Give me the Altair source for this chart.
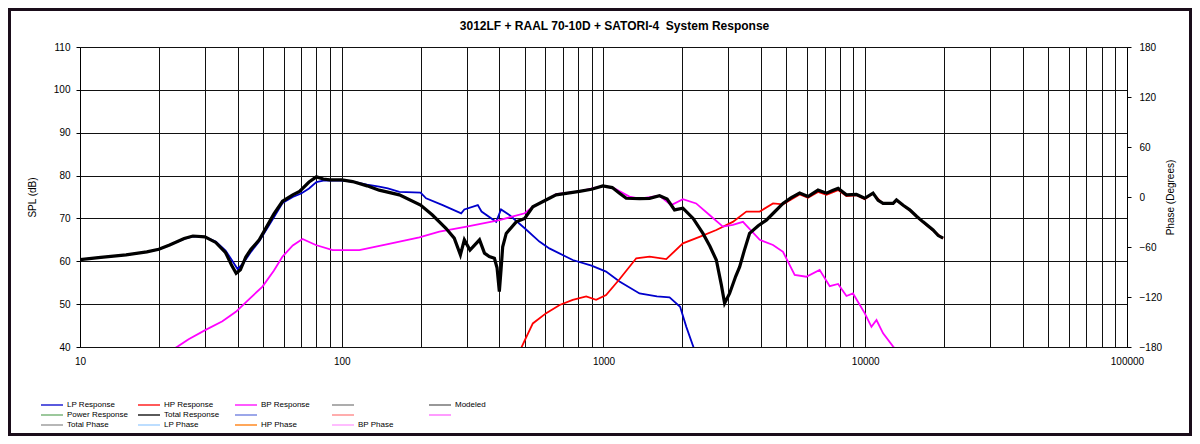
import altair as alt
import pandas as pd

TITLE = "3012LF + RAAL 70-10D + SATORI-4\u00a0 System Response"

# LP Response (blue)
lp_freq = [10, 12, 15, 18, 20, 22, 25, 27, 30, 33, 36, 38, 40, 42, 45, 48.4, 55, 59.4, 65, 70, 75, 80, 85, 90,
           100, 110, 125, 139, 150, 166, 200, 210, 243, 286, 294, 331, 342, 389, 406, 437, 500, 569, 621,
           763, 900, 1023, 1151, 1373, 1600, 1788, 1962, 2072, 2250]
lp_spl = [60.4, 60.9, 61.5, 62.2, 62.8, 63.8, 65.2, 65.8, 65.7, 64.6, 62.5, 60.3, 58.2, 59.5, 62.2, 64.7, 70.2,
          73.6, 75.0, 75.8, 77.0, 78.5, 78.8, 78.8, 78.8, 78.6, 77.9, 77.4, 77.0, 76.2, 76.0, 74.7, 73.1, 71.2,
          72.1, 73.1, 71.6, 69.2, 72.1, 70.8, 67.7, 64.6, 63.0, 60.3, 59.0, 57.6, 55.3, 52.5, 51.8, 51.6, 49.4,
          44.7, 38.5]

# HP Response (red)
hp_freq = [470, 491, 537, 604, 680, 763, 859, 937, 1023, 1151, 1334, 1500, 1737, 2011, 2327, 2698, 3119, 3513,
           3952, 4443, 4850, 5617, 6043, 6600, 7112, 7875, 8475, 9253, 9950, 10710, 11700, 12780, 13160, 14790,
           16630, 18160, 19840]
hp_spl = [38.0, 40.5, 45.5, 47.9, 49.8, 51.0, 51.8, 51.0, 52.1, 55.8, 60.7, 61.1, 60.5, 64.2, 65.7, 67.3, 69.2,
          71.6, 71.6, 73.5, 73.3, 75.6, 74.8, 76.2, 75.5, 76.6, 75.2, 75.4, 74.5, 75.8, 73.4, 73.4, 74.2, 71.9,
          69.1, 67.2, 65.3]

# BP Response (magenta)
bp_freq = [22, 23.6, 26, 30.2, 35, 39.4, 44, 49.8, 55, 59.4, 65, 70.8, 79.6, 92.3, 100, 116.7, 150, 198, 236,
           300, 400, 500, 537, 621, 659, 809, 994, 1100, 1256, 1373, 1637, 1815, 2011, 2259, 2541, 2858,
           3119, 3410, 3952, 4443, 4850, 5375, 5955, 6694, 7317, 7875, 8475, 8977, 9950, 10560, 11040, 11700,
           12780, 13500]
bp_spl = [39.0, 40.1, 41.8, 44.0, 46.0, 48.2, 51.0, 54.1, 57.8, 61.1, 63.7, 65.2, 63.8, 62.6, 62.6, 62.6, 64.0,
          65.6, 66.9, 68.1, 69.6, 71.2, 72.7, 74.7, 75.7, 76.3, 77.6, 77.0, 75.1, 74.6, 75.3, 73.1, 74.5,
          73.5, 70.8, 68.1, 68.5, 69.2, 65.0, 63.8, 62.2, 56.8, 56.4, 58.0, 54.2, 54.7, 51.9, 52.5, 47.9, 44.7,
          46.3, 43.2, 40.1, 38.5]

# Total Response (black)
tot_freq = [10, 12, 15, 18, 20, 22, 25, 27, 30, 33, 36, 38, 39.5, 41, 43, 45, 48.4, 55, 59.4, 65, 69, 75, 80, 85,
            90, 100, 110, 125, 139, 166, 200, 222, 250, 269, 284, 294, 309, 336, 351, 366, 383, 392, 400, 406,
            412, 425, 464, 500, 537, 621, 659, 809, 900, 994, 1080, 1151, 1221, 1373, 1500, 1637, 1750, 1868,
            2011, 2200, 2398, 2550, 2698, 2820, 2902, 3032, 3200, 3312, 3450, 3614, 3900, 4188, 4500, 4850, 5200,
            5617, 6043, 6600, 7112, 7500, 7875, 8475, 9253, 9950, 10710, 11200, 11700, 12780, 13160, 14000,
            14790, 15700, 16630, 18160, 19000, 19840]
tot_spl = [60.4, 60.9, 61.5, 62.2, 62.8, 63.8, 65.3, 65.9, 65.7, 64.4, 62.0, 59.0, 57.2, 58.0, 61.0, 62.8, 65.0,
           71.0, 74.0, 75.5, 76.3, 78.5, 79.7, 79.2, 79.0, 79.0, 78.6, 77.6, 76.6, 75.5, 73.1, 70.8, 67.7, 65.4,
           61.5, 65.0, 62.6, 65.0, 61.9, 61.1, 60.7, 58.5, 52.9, 58.0, 63.4, 66.5, 69.2, 70.0, 72.7, 74.7, 75.5,
           76.3, 76.8, 77.6, 77.2, 75.9, 74.7, 74.6, 74.7, 75.3, 74.5, 72.0, 72.4, 70.0, 66.5, 63.5, 60.3, 54.5,
           50.2, 52.5, 56.5, 58.7, 62.5, 66.5, 68.3, 69.6, 71.5, 73.5, 74.8, 75.9, 75.1, 76.6, 75.9, 76.5, 77.0,
           75.5, 75.6, 74.7, 75.9, 74.2, 73.5, 73.5, 74.3, 73.0, 72.0, 70.5, 69.2, 67.3, 66.0, 65.4]

# Legend entries (names starting with "_" have no label)
legend_names = ["LP Response", "HP Response", "BP Response", "_b1", "Modeled",
                "Power Response", "Total Response", "_b2", "_b3", "_b4",
                "Total Phase", "LP Phase", "HP Phase", "BP Phase"]
legend_colors = ["#0000cc", "#ff0000", "#ff00ff", "#808080", "#606060",
                 "#66aa66", "#000000", "#6677dd", "#ff8080", "#ff66ff",
                 "#909090", "#99ccff", "#ff7700", "#ff99ff"]

spl_ticks = [40, 50, 60, 70, 80, 90, 100, 110]
phase_ticks = [-180, -120, -60, 0, 60, 120, 180]
x_labels = [10, 100, 1000, 10000, 100000]
x_grid = [m * d for d in [10, 100, 1000, 10000] for m in range(1, 10)] + [100000]


def frame(name, fs, vs):
    return pd.DataFrame({"f": fs, "spl": vs, "s": name})


W, H = 1047, 300
FONT = "Liberation Sans"

color = alt.Color(
    "s:N",
    scale=alt.Scale(domain=legend_names, range=legend_colors),
    legend=alt.Legend(
        title=None, orient="none", legendX=-34, legendY=352, columns=5, direction="horizontal",
        gridAlign="all", symbolType="M-2.2,0H2.2", symbolSize=100, symbolStrokeWidth=1.3,
        labelFontSize=8, labelFont=FONT, labelOffset=9, columnPadding=7, rowPadding=-1.5, padding=0,
        labelExpr="substring(datum.label, 0, 1) == '_' ? '' : datum.label",
    ),
)

x_enc = alt.X(
    "f:Q",
    scale=alt.Scale(type="log", domain=[10, 100000]),
    axis=alt.Axis(
        values=x_grid, title=None, grid=True, gridColor="#111111", gridOpacity=1, ticks=False,
        domain=False, labelFontSize=10, labelFont=FONT, labelPadding=9, labelColor="#000",
        labelExpr="indexof([10, 100, 1000, 10000, 100000], datum.value) >= 0 ? datum.label : ''",
        format="d", labelFlush=False, labelOverlap=False,
    ),
)

y_enc = alt.Y(
    "spl:Q",
    scale=alt.Scale(domain=[40, 110]),
    axis=alt.Axis(
        values=spl_ticks, title="SPL (dB)", grid=True, gridColor="#111111", gridOpacity=1,
        tickSize=4, tickColor="#000", domainColor="#000", labelFontSize=10, labelFont=FONT,
        labelColor="#000", labelPadding=6, titleFontSize=10, titleFont=FONT, titleFontWeight="normal",
        titlePadding=16, titleColor="#000",
    ),
)


def line(name, fs, vs, sw):
    return alt.Chart(frame(name, fs, vs)).mark_line(strokeWidth=sw, clip=True).encode(
        x=x_enc, y=y_enc, color=color
    )


lines = alt.layer(
    line("LP Response", lp_freq, lp_spl, 1.8),
    line("HP Response", hp_freq, hp_spl, 1.8),
    line("BP Response", bp_freq, bp_spl, 1.8),
    line("Total Response", tot_freq, tot_spl, 3.2),
)

phase = alt.Chart(pd.DataFrame({"p": phase_ticks})).mark_point(opacity=0).encode(
    y=alt.Y(
        "p:Q",
        scale=alt.Scale(domain=[-180, 180]),
        axis=alt.Axis(
            orient="right", values=phase_ticks, title="Phase (Degrees)", grid=False, tickSize=4,
            tickColor="#000", domainColor="#000", labelFontSize=10, labelFont=FONT, labelColor="#000",
            labelPadding=8, titleFontSize=10, titleFont=FONT, titleFontWeight="normal", titleAngle=270,
            titlePadding=14, titleColor="#000",
        ),
    )
)

border = alt.Chart(pd.DataFrame({"a": [0]})).mark_rect(
    fillOpacity=0, stroke="#1a0d1a", strokeWidth=3
).encode(x=alt.value(-70.5), x2=alt.value(W + 63.5), y=alt.value(-37.5), y2=alt.value(H + 87.5))

chart = (
    alt.layer(lines, phase, border)
    .resolve_scale(y="independent")
    .properties(
        width=W,
        height=H,
        autosize=alt.AutoSizeParams(type="none"),
        padding={"left": 72, "top": 39, "right": 65, "bottom": 89},
        title=alt.Title(TITLE, fontSize=12, font=FONT, fontWeight="bold", anchor="middle", offset=-25,
                        frame="group", dx=11, color="#000"),
    )
    .configure_view(stroke="#000", strokeWidth=1)
    .configure(background="white")
)

chart.save("out.html", embed_options={"renderer": "svg", "actions": False})
